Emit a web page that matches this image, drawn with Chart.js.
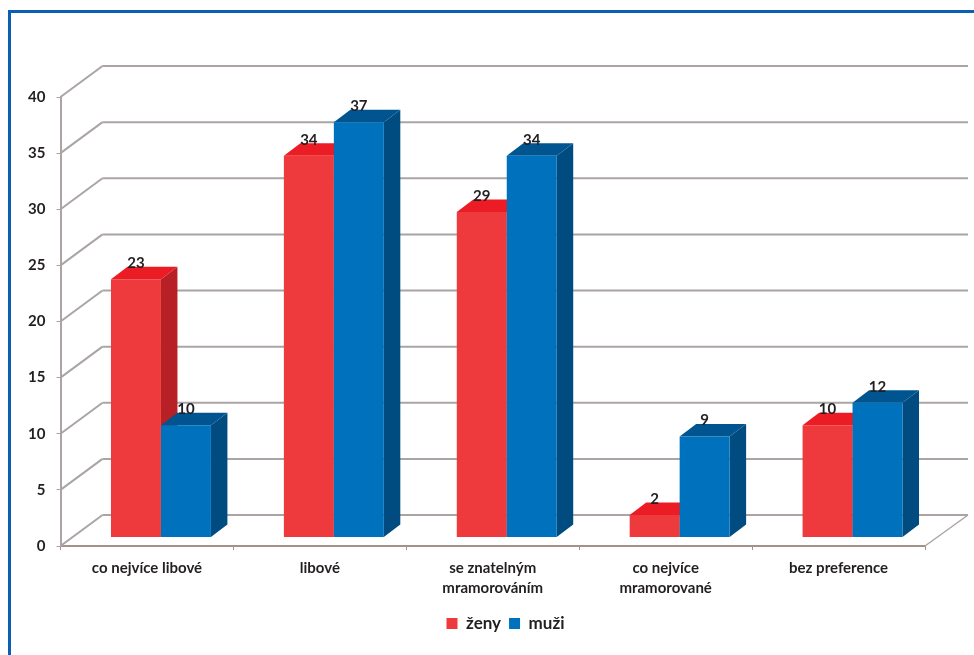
<!DOCTYPE html>
<html lang="cs">
<head>
    <meta charset="UTF-8">
    <title>Preference mramorování</title>
    <script src="https://cdn.jsdelivr.net/npm/chart.js"></script>
    <style>
        body { margin: 0; background: #fff; overflow: hidden; }
        #wrap { position: relative; width: 974px; height: 655px; }
        #frame { position: absolute; left: 8px; top: 10px; right: 0; bottom: 0; border-left: 3px solid #0a5fb4; border-top: 3px solid #0a5fb4; }
        canvas { position: absolute; left: 0; top: 0; }
    </style>
</head>
<body>
    <div id="wrap">
        <div id="frame"></div>
        <canvas id="chart" width="974" height="655"></canvas>
    </div>

    <script>
        const categories = ["co nejvíce libové", "libové", ["se znatelným", "mramorováním"], ["co nejvíce", "mramorované"], "bez preference"];
        const zeny = [23, 34, 29, 2, 10];
        const muzi = [10, 37, 34, 9, 12];
        const yTicks = [0, 5, 10, 15, 20, 25, 30, 35, 40];

        const fontName = "Lato, 'Open Sans', sans-serif";
        const textColor = "#231f20";
        const gridColor = "#aaa5a3";

        // depth of the 3D box: wall offset, bar offset from front plane, bar thickness
        const wallDx = 42, wallDy = -31;
        const barDx = 14, barDy = -8.5;
        const sideDx = 16.5, sideDy = -12.5;
        const wallRight = 968;

        const faces = [
            { top: "#ec1c24", side: "#b72025" },
            { top: "#00548f", side: "#004c80" }
        ];

        function line(ctx, x1, y1, x2, y2) {
            ctx.beginPath();
            ctx.moveTo(x1, y1);
            ctx.lineTo(x2, y2);
            ctx.stroke();
        }

        function poly(ctx, pts, color) {
            ctx.fillStyle = color;
            ctx.beginPath();
            pts.forEach((p, i) => i ? ctx.lineTo(p[0], p[1]) : ctx.moveTo(p[0], p[1]));
            ctx.closePath();
            ctx.fill();
        }

        const box3d = {
            id: "box3d",
            beforeDatasetsDraw(chart) {
                const { ctx, chartArea, scales, data } = chart;

                // back wall, floor and the left wall diagonals
                ctx.save();
                ctx.strokeStyle = gridColor;
                ctx.lineWidth = 2;
                yTicks.forEach(v => {
                    const y = scales.y.getPixelForValue(v);
                    line(ctx, chartArea.left + wallDx, y + wallDy, wallRight, y + wallDy);
                    line(ctx, chartArea.left, y, chartArea.left + wallDx, y + wallDy);
                });
                ctx.lineWidth = 1.5;
                line(ctx, chartArea.right, chartArea.bottom, wallRight, chartArea.bottom + wallDy);
                ctx.restore();

                // bars stand a little behind the front plane; first series goes
                // under the second so muži covers the side of ženy
                ctx.save();
                ctx.translate(barDx, barDy);
                data.datasets.forEach((ds, i) => {
                    const meta = chart.getDatasetMeta(i);
                    const colors = faces[i];
                    meta.data.forEach(bar => {
                        const l = bar.x - bar.width / 2, r = bar.x + bar.width / 2;
                        poly(ctx, [[r, bar.y], [r + sideDx, bar.y + sideDy], [r + sideDx, bar.base + sideDy], [r, bar.base]], colors.side);
                        poly(ctx, [[l, bar.y], [l + sideDx, bar.y + sideDy], [r + sideDx, bar.y + sideDy], [r, bar.y]], colors.top);
                    });
                    meta.controller.draw();
                });
                ctx.restore();

                // value labels
                ctx.save();
                ctx.fillStyle = textColor;
                ctx.font = "bold 15px " + fontName;
                ctx.textAlign = "center";
                ctx.textBaseline = "middle";
                data.datasets.forEach((ds, i) => {
                    chart.getDatasetMeta(i).data.forEach((bar, j) => {
                        ctx.fillText(ds.data[j], bar.x + barDx, bar.y + barDy - 16);
                    });
                });
                ctx.restore();

                return false;
            },
            // legend sits under the bars rather than under the whole canvas
            afterLayout(chart) {
                const legend = chart.legend;
                legend.left += 43; legend.right += 43;
            }
        };

        new Chart(document.getElementById("chart"), {
            type: "bar",
            data: {
                labels: categories,
                datasets: [
                    { label: "ženy", data: zeny, backgroundColor: "#ee3a3c" },
                    { label: "muži", data: muzi, backgroundColor: "#0071bc" }
                ]
            },
            options: {
                responsive: false,
                animation: false,
                layout: { padding: { left: 0, right: 49, top: 97, bottom: 13 } },
                datasets: { bar: { categoryPercentage: 0.578, barPercentage: 1 } },
                plugins: {
                    tooltip: { enabled: false },
                    legend: {
                        position: "bottom",
                        labels: {
                            boxWidth: 11, boxHeight: 11, padding: 8,
                            color: textColor,
                            font: { family: fontName, size: 17, weight: "bold" }
                        }
                    }
                },
                scales: {
                    x: {
                        afterFit(scale) { scale.height = 61; },
                        border: { color: "#a39287", width: 2 },
                        grid: { drawOnChartArea: false, drawTicks: true, tickLength: 4, color: "#a39287" },
                        ticks: {
                            color: textColor, padding: 8, maxRotation: 0,
                            font: { family: fontName, size: 15, weight: "bold", lineHeight: 1.35 }
                        }
                    },
                    y: {
                        min: 0, max: 40,
                        afterFit(scale) { scale.width = 60.5; },
                        border: { color: gridColor, width: 2 },
                        grid: { drawOnChartArea: false, drawTicks: true, tickLength: 4, color: gridColor },
                        ticks: {
                            stepSize: 5, color: textColor, padding: 11,
                            font: { family: fontName, size: 15, weight: "bold" }
                        }
                    }
                }
            },
            plugins: [box3d]
        });
    </script>
</body>
</html>
